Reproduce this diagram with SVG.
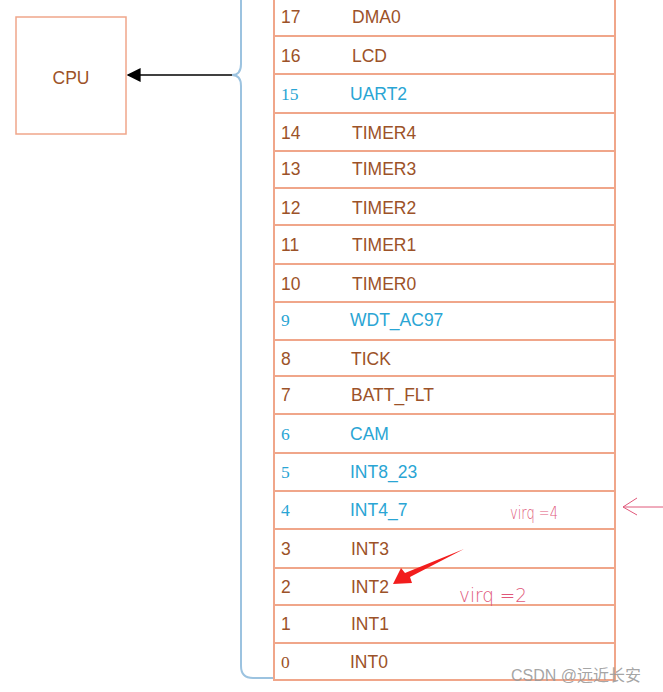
<svg xmlns="http://www.w3.org/2000/svg" width="663" height="692" viewBox="0 0 663 692">
<style>
.cell{fill:#fff;stroke:#f0a68a;stroke-width:2}
.t{font-family:"Liberation Sans",Arial,sans-serif;font-size:17.5px;fill:#9c5228}
.b{fill:#2aa5d4}
.s{font-family:"Liberation Serif","Times New Roman",serif;font-size:17.5px}
.hw{font-family:"DejaVu Sans","Liberation Sans",sans-serif;fill:#e0587a;font-weight:200}
</style>
<defs>
<marker id="ah" viewBox="0 0 10 10" refX="9" refY="5" markerWidth="14" markerHeight="14" markerUnits="userSpaceOnUse" orient="auto">
<path d="M0,0 L10,5 L0,10 z" fill="#000"/>
</marker>
</defs>
<rect width="663" height="692" fill="#fff"/>
<g id="cpu">
<rect x="16" y="17" width="110" height="117" fill="#fff" stroke="#f0a68a" stroke-width="1.5"/>
<text class="t" x="71" y="84" text-anchor="middle">CPU</text>
</g>
<g id="connectors">
<path d="M241,0 V64 Q241,75 232,75 Q241,75 241,86 V666 Q241,678 253,678 H274" fill="none" stroke="#9cc3e0" stroke-width="2"/>
<line x1="232" y1="75" x2="128" y2="75" stroke="#000" stroke-width="1.5" marker-end="url(#ah)"/>
</g>
<g id="table">
<rect class="cell" x="274" y="-3" width="341" height="39"/>
<rect class="cell" x="274" y="36" width="341" height="38"/>
<rect class="cell" x="274" y="74" width="341" height="39"/>
<rect class="cell" x="274" y="113" width="341" height="38"/>
<rect class="cell" x="274" y="151" width="341" height="37"/>
<rect class="cell" x="274" y="188" width="341" height="37"/>
<rect class="cell" x="274" y="225" width="341" height="39"/>
<rect class="cell" x="274" y="264" width="341" height="38"/>
<rect class="cell" x="274" y="302" width="341" height="38"/>
<rect class="cell" x="274" y="340" width="341" height="36"/>
<rect class="cell" x="274" y="376" width="341" height="38"/>
<rect class="cell" x="274" y="414" width="341" height="39"/>
<rect class="cell" x="274" y="453" width="341" height="38"/>
<rect class="cell" x="274" y="491" width="341" height="38"/>
<rect class="cell" x="274" y="529" width="341" height="39"/>
<rect class="cell" x="274" y="568" width="341" height="37"/>
<rect class="cell" x="274" y="605" width="341" height="38"/>
<rect class="cell" x="274" y="643" width="341" height="37"/>
</g>
<g id="r17"><text class="t" x="281" y="23">17</text><text class="t" x="352" y="23">DMA0</text></g>
<g id="r16"><text class="t" x="281" y="62">16</text><text class="t" x="352" y="62">LCD</text></g>
<g id="r15"><text class="s b" x="281" y="100">15</text><text class="t b" x="350" y="100">UART2</text></g>
<g id="r14"><text class="t" x="281" y="139">14</text><text class="t" x="352" y="139">TIMER4</text></g>
<g id="r13"><text class="t" x="281" y="175">13</text><text class="t" x="352" y="175">TIMER3</text></g>
<g id="r12"><text class="t" x="281" y="214">12</text><text class="t" x="352" y="214">TIMER2</text></g>
<g id="r11"><text class="t" x="281" y="251">11</text><text class="t" x="352" y="251">TIMER1</text></g>
<g id="r10"><text class="t" x="281" y="290">10</text><text class="t" x="352" y="290">TIMER0</text></g>
<g id="r9"><text class="s b" x="281" y="326">9</text><text class="t b" x="350" y="326">WDT_AC97</text></g>
<g id="r8"><text class="t" x="281" y="365">8</text><text class="t" x="351" y="365">TICK</text></g>
<g id="r7"><text class="t" x="281" y="401">7</text><text class="t" x="351" y="401">BATT_FLT</text></g>
<g id="r6"><text class="s b" x="281" y="440">6</text><text class="t b" x="350" y="440">CAM</text></g>
<g id="r5"><text class="s b" x="281" y="478">5</text><text class="t b" x="350" y="478">INT8_23</text></g>
<g id="r4"><text class="s b" x="281" y="516">4</text><text class="t b" x="350" y="516">INT4_7</text></g>
<g id="r3"><text class="t" x="281" y="555">3</text><text class="t" x="351" y="555">INT3</text></g>
<g id="r2"><text class="t" x="281" y="593">2</text><text class="t" x="351" y="593">INT2</text></g>
<g id="r1"><text class="t" x="281" y="630">1</text><text class="t" x="351" y="630">INT1</text></g>
<g id="r0"><text class="s" x="281" y="668" fill="#9c5228">0</text><text class="t" x="350" y="668">INT0</text></g>
<g id="annotations">
<text class="hw" x="510" y="519" font-size="17" textLength="48" lengthAdjust="spacingAndGlyphs">virq =4</text>
<text class="hw" x="459" y="602" font-size="20" textLength="68" lengthAdjust="spacingAndGlyphs">virq =2</text>
<path d="M663,507 H623 M637,498 L623,507 L637,515" fill="none" stroke="#e0587a" stroke-width="1"/>
<polygon points="464,549 410,577 412,583 393,584 401,568 405,573" fill="#f21d1d"/>
</g>
<text x="511" y="681" font-family="'Liberation Sans','Noto Sans CJK SC',sans-serif" font-size="16" fill="#9a9a9a" fill-opacity="0.9">CSDN @远近长安</text>
</svg>
